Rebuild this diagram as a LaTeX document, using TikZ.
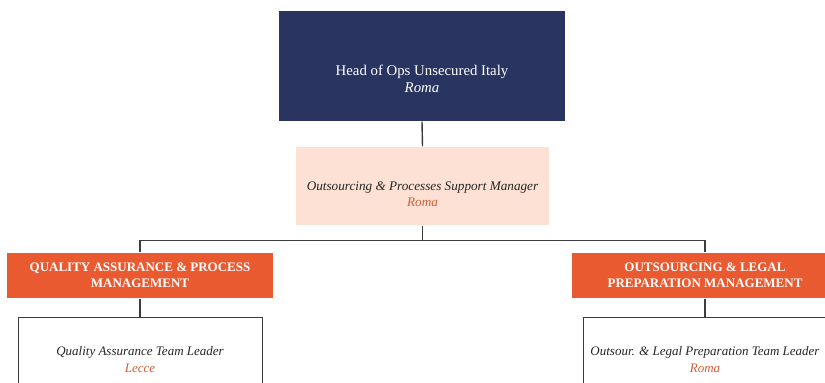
\documentclass[tikz,border=0pt]{standalone}
\usepackage{fontspec}
\setmainfont{Liberation Serif}
\definecolor{navy}{RGB}{41,53,96}
\definecolor{peach}{RGB}{252,225,212}
\definecolor{brick}{RGB}{234,90,48}
\definecolor{place}{RGB}{205,95,55}
\definecolor{wire}{RGB}{60,60,60}
\begin{document}
\begin{tikzpicture}[x=1pt, y=1pt, line width=1.4pt]
	\useasboundingbox (0,0) rectangle (825,383);
	\clip (0,0) rectangle (825,383);
	\node[fill=navy, shape=rectangle, minimum width=286pt, minimum height=110pt] (head) at (422,317) {};
	\node[text=white, align=center, font=\fontsize{14.8}{17}\selectfont] (head_text) at ([yshift=-13pt]head.center) {Head of Ops Unsecured Italy\\ \textit{Roma}};
	\node[fill=peach, shape=rectangle, minimum width=253pt, minimum height=78pt] (support) at (422.5,197) {};
	\node[text=black!85, align=center, font=\fontsize{13.2}{16.5}\selectfont\itshape] (support_text) at ([yshift=-8pt]support.center) {Outsourcing \& Processes Support Manager\\ \textcolor{place}{Roma}};

	\node[fill=brick, text=white, shape=rectangle, minimum width=266pt, minimum height=45pt, align=center, font=\fontsize{13}{16}\selectfont\bfseries] (quality) at (140,107.5) {QUALITY ASSURANCE \& PROCESS\\ MANAGEMENT};
	\node[fill=brick, text=white, shape=rectangle, minimum width=266pt, minimum height=45pt, align=center, font=\fontsize{13}{16}\selectfont\bfseries] (legal) at (705,107.5) {OUTSOURCING \& LEGAL\\ PREPARATION MANAGEMENT};

	\node[draw=wire, line width=1pt, fill=white, text=black!85, shape=rectangle, minimum width=244pt, minimum height=84pt, align=center, font=\fontsize{13}{17}\selectfont\itshape] (quality_lead) at (140,23) {Quality Assurance Team Leader\\ \textcolor{place}{Lecce}};
	\node[draw=wire, line width=1pt, fill=white, text=black!85, shape=rectangle, minimum width=244pt, minimum height=84pt, align=center, font=\fontsize{13}{17}\selectfont\itshape] (legal_lead) at (705,23) {Outsour. \& Legal Preparation Team Leader\\ \textcolor{place}{Roma}};

	\draw[wire] (head.south) -- (support.north);
	\draw[wire] (support.south) -- ++(0,-15) coordinate (bus);
	\draw[wire] (quality.north) |- (bus) -| (legal.north);
	\draw[wire] (quality.south) -- (quality_lead.north);
	\draw[wire] (legal.south) -- (legal_lead.north);
\end{tikzpicture}
\end{document}
